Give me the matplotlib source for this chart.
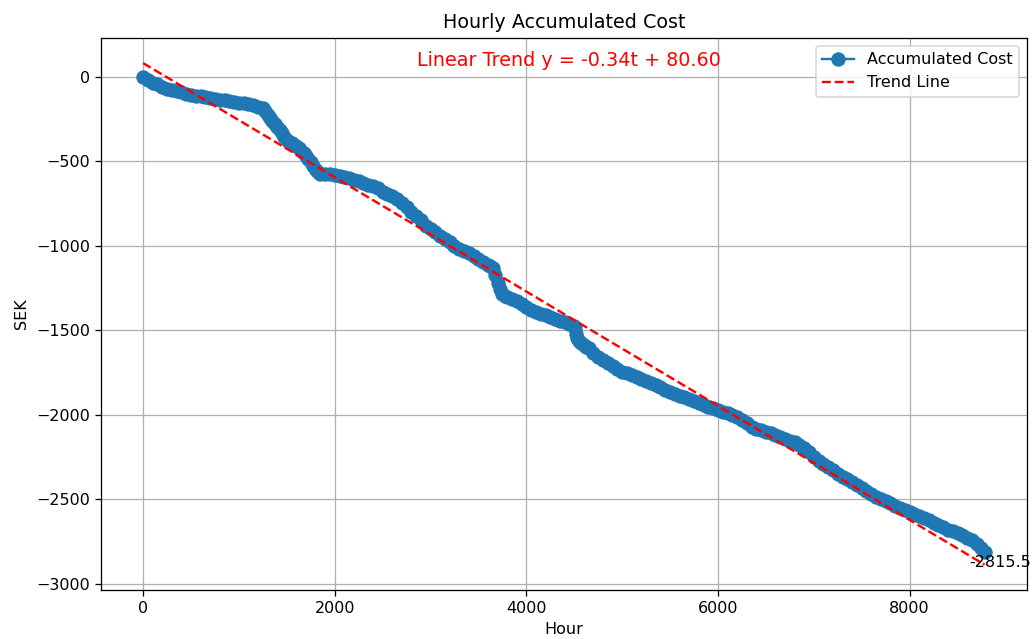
import matplotlib
matplotlib.use("Agg")
import matplotlib.pyplot as plt

# hours sampled from the picture, and accumulated cost (SEK) read at those hours
hours = [
    0, 50, 100, 150, 200, 250, 300, 350, 400, 450,
    500, 550, 600, 650, 700, 750, 800, 850, 900, 950,
    1000, 1050, 1100, 1150, 1200, 1250, 1275, 1300, 1325, 1350,
    1375, 1400, 1425, 1450, 1475, 1500, 1525, 1550, 1575, 1600,
    1625, 1650, 1675, 1700, 1725, 1750, 1775, 1800, 1825, 1850,
    1900, 1950,
    2000, 2050, 2100, 2150, 2200, 2250, 2300, 2350, 2400, 2450,
    2500, 2550, 2600, 2650, 2700, 2750, 2800, 2850, 2900, 2950,
    3000, 3050, 3100, 3150, 3200, 3250, 3300, 3350, 3400, 3450,
    3500, 3550, 3600, 3625, 3650, 3675, 3700, 3725, 3750, 3775,
    3800, 3850, 3900, 3950,
    4000, 4050, 4100, 4150, 4200, 4250, 4300, 4350, 4400, 4450,
    4500, 4510, 4520, 4530, 4550, 4575, 4600, 4625, 4650, 4700,
    4750, 4800, 4850, 4900, 4950,
    5000, 5050, 5100, 5150, 5200, 5250, 5300, 5350, 5400, 5450,
    5500, 5550, 5600, 5650, 5700, 5750, 5800, 5850, 5900, 5950,
    6000, 6050, 6100, 6150, 6200, 6250, 6300, 6350, 6400, 6450,
    6500, 6550, 6600, 6650, 6700, 6750, 6800, 6850, 6900, 6950,
    7000, 7050, 7100, 7150, 7200, 7250, 7300, 7350, 7400, 7450,
    7500, 7550, 7600, 7650, 7700, 7750, 7800, 7850, 7900, 7950,
    8000, 8050, 8100, 8150, 8200, 8250, 8300, 8350, 8400, 8450,
    8500, 8550, 8600, 8650, 8700, 8750, 8783,
]
cost = [
    0, -20, -35, -45, -62, -72, -78, -86, -93, -100,
    -106, -112, -117, -121, -126, -131, -135, -140, -145, -150,
    -154, -158, -164, -170, -178, -188, -205, -225, -243, -262,
    -280, -298, -316, -335, -354, -373, -384, -393, -402, -411,
    -424, -438, -452, -468, -486, -505, -530, -555, -565, -573,
    -576, -578,
    -581, -585, -592, -598, -610, -620, -628, -640, -648, -660,
    -680, -695, -708, -725, -750, -772, -798, -822, -850, -885,
    -902, -922, -940, -958, -980, -1003, -1018, -1032, -1046, -1062,
    -1078, -1094, -1112, -1122, -1135, -1175, -1220, -1255, -1285, -1296,
    -1305, -1318, -1330, -1345,
    -1365, -1378, -1390, -1402, -1412, -1422, -1432, -1443, -1450, -1462,
    -1478, -1490, -1522, -1548, -1562, -1578, -1590, -1599, -1608, -1635,
    -1658, -1675, -1693, -1712, -1730,
    -1745, -1755, -1766, -1777, -1790, -1800, -1810, -1823, -1838, -1852,
    -1865, -1876, -1888, -1898, -1910, -1920, -1932, -1943, -1952, -1962,
    -1972, -1982, -1992, -2002, -2012, -2030, -2052, -2072, -2085, -2093,
    -2102, -2110, -2120, -2130, -2142, -2154, -2165, -2180, -2195, -2220,
    -2248, -2272, -2292, -2310, -2330, -2350, -2367, -2382, -2400, -2418,
    -2435, -2452, -2470, -2485, -2498, -2512, -2525, -2540, -2553, -2566,
    -2578, -2590, -2600, -2612, -2625, -2640, -2655, -2668, -2680, -2690,
    -2702, -2715, -2730, -2745, -2765, -2790, -2815.5,
]

slope = -0.338
intercept = 80.60

trend_x = [hours[0], hours[-1]]
trend_y = [intercept + slope * t for t in trend_x]

fig = plt.figure(figsize=(1033 / 115, 639 / 115), dpi=115)
ax = fig.add_axes([0.0978, 0.0771, 0.8961, 0.8634])

ax.plot(hours, cost, marker='o', markersize=8, linestyle='-',
        label='Accumulated Cost')
ax.plot(trend_x, trend_y, 'r--', label='Trend Line')

ax.text(0.506, 0.949, f'Linear Trend y = {slope:.2f}t + {intercept:.2f}',
        transform=ax.transAxes, ha='center', va='baseline', color='red', fontsize=12)
ax.annotate(f'{cost[-1]:.1f}', (hours[-1], cost[-1]), xytext=(-15, -3),
            textcoords='offset pixels', va='top', ha='left', fontsize=10)

ax.set_title('Hourly Accumulated Cost')
ax.set_xlabel('Hour')
ax.set_ylabel('SEK')
ax.grid(True)
ax.legend(loc='upper right')

fig.savefig('out.png', dpi=115)
